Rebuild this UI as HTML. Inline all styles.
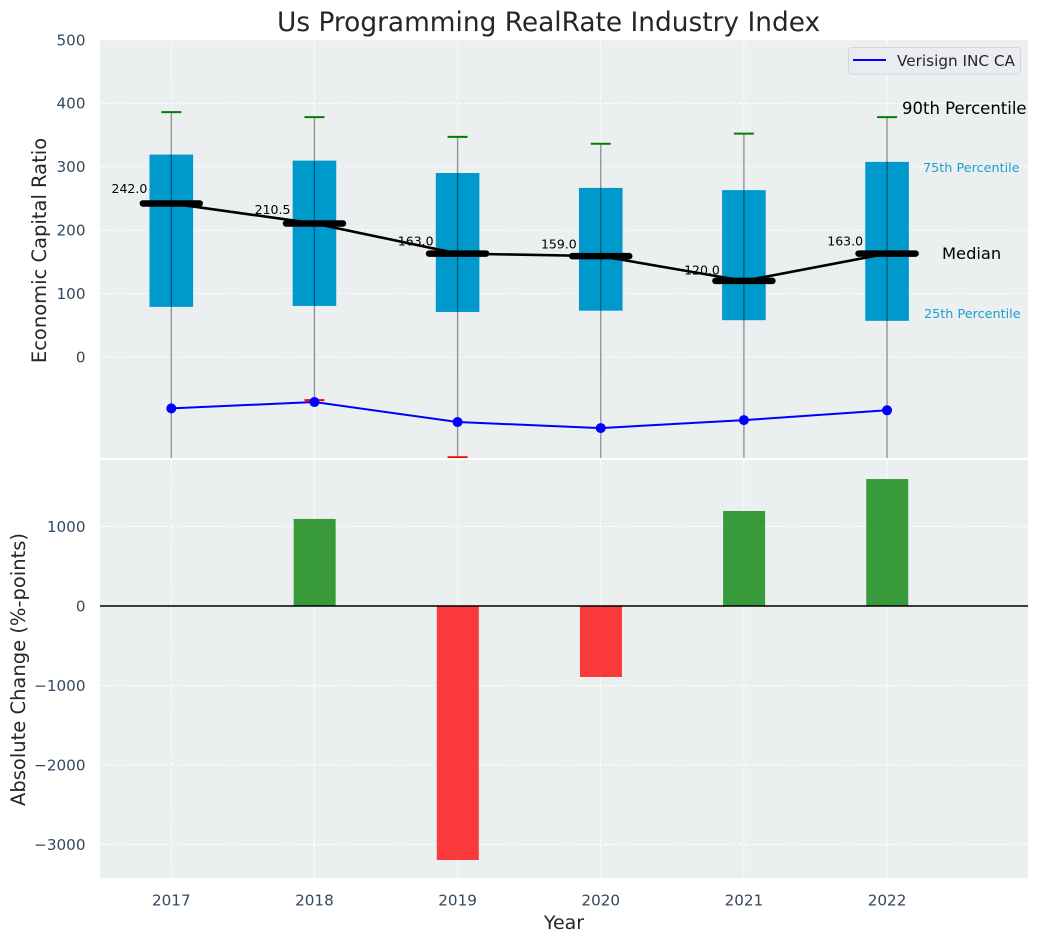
<!DOCTYPE html>
<html>
<head>
<meta charset="utf-8">
<title>Us Programming RealRate Industry Index</title>
<style>
html,body{margin:0;padding:0;background:#fff;}
svg{display:block;}
text{font-family:"DejaVu Sans","Liberation Sans",sans-serif;}
</style>
</head>
<body>
<svg id="chart" xmlns="http://www.w3.org/2000/svg" width="1039" height="942" viewBox="0 0 1039 942">
<defs>
<clipPath id="top-clip"><rect x="100" y="40" width="928" height="418"></rect></clipPath>
</defs>
<rect x="100" y="40" width="928" height="418" fill="#ebeff0"></rect>
<rect x="100" y="460" width="928" height="418" fill="#ebeff0"></rect>
<g id="grid"></g>
<g id="marks-top" clip-path="url(#top-clip)"></g>
<g id="marks-bottom"></g>
<g id="labels"></g>
<text x="277" y="31" font-size="26.4" fill="#262626">Us Programming RealRate Industry Index</text>
<text transform="translate(46,250.5) rotate(-90)" text-anchor="middle" font-size="19.5" fill="#262626">Economic Capital Ratio</text>
<text transform="translate(25,669.5) rotate(-90)" text-anchor="middle" font-size="19.5" fill="#262626">Absolute Change (%-points)</text>
<text x="564" y="929" text-anchor="middle" font-size="19" fill="#262626">Year</text>
<g>
<rect x="848.5" y="47.5" width="172" height="26.5" rx="3" fill="#eaecf1" stroke="#d5d7da" stroke-width="1"></rect>
<line x1="853" x2="886" y1="60" y2="60" stroke="#0000ff" stroke-width="2"></line>
<text x="897" y="66" font-size="15.25" fill="#262626">Verisign INC CA</text>
</g>
<text x="902" y="114" font-size="16.5" fill="#000">90th Percentile</text>
<text x="923" y="172" font-size="12.8" fill="#1a9fcf">75th Percentile</text>
<text x="942" y="259" font-size="16.3" fill="#000">Median</text>
<text x="924" y="318" font-size="12.8" fill="#1a9fcf">25th Percentile</text>
</svg>
<script>
const years = [2017, 2018, 2019, 2020, 2021, 2022];
const p90 = [386, 378, 347, 336, 352, 378];
const p75 = [319, 309.5, 290, 266.5, 263, 307.5];
const medians = [242, 210.5, 163, 159, 120, 163];
const p25 = [79, 80.5, 71, 73, 58, 57];
const p10 = [-200, -68, -158, -200, -200, -200];
const verisign = [-81, -71, -102.5, -112, -99.5, -84];
const changes = [0, 1095, -3195, -893, 1195, 1597];
const topTicks = [0, 100, 200, 300, 400, 500];
const bottomTicks = [-3000, -2000, -1000, 0, 1000];
const bottomTickLabels = ['−3000', '−2000', '−1000', '0', '1000'];

const NS = 'http://www.w3.org/2000/svg';
function xScale(year) { return 171.3 + (year - 2017) * 143.15; }
function yTop(v) { return 357 - v * 0.6345; }
function yBottom(v) { return 606 - v * 0.0795; }

function make(parent, tag, attrs, text) {
  const el = document.createElementNS(NS, tag);
  for (const k in attrs) el.setAttribute(k, attrs[k]);
  if (text !== undefined) el.textContent = text;
  document.getElementById(parent).appendChild(el);
  return el;
}
const gridStyle = { stroke: '#ffffff', 'stroke-width': 1, 'stroke-dasharray': '5 2', 'stroke-opacity': 0.85 };

// horizontal grid and y tick labels
topTicks.forEach(function (t) {
  const y = yTop(t);
  const g = make('grid', 'line', Object.assign({ x1: 100, x2: 1028, y1: y, y2: y }, gridStyle));
  
  
  const l = make('labels', 'text', { x: 85.5, y: y + 5.5, 'text-anchor': 'end', 'font-size': 15.2, fill: '#34495e' }, String(t));
  
  
});
bottomTicks.forEach(function (t, i) {
  const y = yBottom(t);
  const g = make('grid', 'line', Object.assign({ x1: 100, x2: 1028, y1: y, y2: y }, gridStyle));
  
  
  const l = make('labels', 'text', { x: 85.5, y: y + 5.5, 'text-anchor': 'end', 'font-size': 15.2, fill: '#34495e' }, bottomTickLabels[i]);
  
  
});

// vertical grid and x tick labels
years.forEach(function (yr) {
  const x = xScale(yr);
  const a = make('grid', 'line', Object.assign({ x1: x, x2: x, y1: 40, y2: 458 }, gridStyle));
  
  
  const b = make('grid', 'line', Object.assign({ x1: x, x2: x, y1: 460, y2: 878 }, gridStyle));
  
  
  const l = make('labels', 'text', { x: x, y: 905.5, 'text-anchor': 'middle', 'font-size': 15.2, fill: '#34495e' }, String(yr));
  
  
});

// boxes and whiskers
years.forEach(function (yr, i) {
  const x = xScale(yr);
  const box = make('marks-top', 'rect', { x: x - 21.8, y: yTop(p75[i]), width: 43.6, height: yTop(p25[i]) - yTop(p75[i]), fill: '#0099cc' });
  
  
  const w = make('marks-top', 'line', { x1: x, x2: x, y1: yTop(p90[i]), y2: yTop(p10[i]), stroke: '#000', 'stroke-opacity': 0.42, 'stroke-width': 1.3 });
  
  
  const hi = make('marks-top', 'line', { x1: x - 10, x2: x + 10, y1: yTop(p90[i]), y2: yTop(p90[i]), stroke: '#008000', 'stroke-width': 2 });
  
  
  const lo = make('marks-top', 'line', { x1: x - 10, x2: x + 10, y1: yTop(p10[i]), y2: yTop(p10[i]), stroke: '#ff0000', 'stroke-width': 2 });
  
  
});

// median trend line
const medianLine = make('marks-top', 'polyline', {
  points: years.map(function (yr, i) { return xScale(yr) + ',' + yTop(medians[i]); }).join(' '),
  fill: 'none', stroke: '#000', 'stroke-width': 2.6
});



// median bars and labels
years.forEach(function (yr, i) {
  const x = xScale(yr);
  const m = make('marks-top', 'line', { x1: x - 28.5, x2: x + 28.5, y1: yTop(medians[i]), y2: yTop(medians[i]), stroke: '#000', 'stroke-width': 6.5, 'stroke-linecap': 'round' });
  
  
  const t = make('marks-top', 'text', { x: x - 24, y: yTop(medians[i] * 1.05) - 2.8, 'text-anchor': 'end', 'font-size': 12.5, fill: '#000' }, medians[i].toFixed(1));
  
  
});

// Verisign series
const blue = make('marks-top', 'polyline', {
  points: years.map(function (yr, i) { return xScale(yr) + ',' + yTop(verisign[i]); }).join(' '),
  fill: 'none', stroke: '#0000ff', 'stroke-width': 2
});


years.forEach(function (yr, i) {
  const c = make('marks-top', 'circle', { cx: xScale(yr), cy: yTop(verisign[i]), r: 5, fill: '#0000ff' });
  
  
});

// change bars
years.forEach(function (yr, i) {
  const v = changes[i];
  if (v === 0) return;
  const y0 = yBottom(0), y1 = yBottom(v);
  const r = make('marks-bottom', 'rect', {
    x: xScale(yr) - 20.8, width: 42, y: Math.min(y0, y1), height: Math.abs(y1 - y0),
    fill: v > 0 ? '#008000' : '#ff0000', 'fill-opacity': 0.76
  });
  
  
});
const zero = make('marks-bottom', 'line', { x1: 100, x2: 1028, y1: yBottom(0), y2: yBottom(0), stroke: '#000', 'stroke-width': 1.6 });


</script>
</body>
</html>
